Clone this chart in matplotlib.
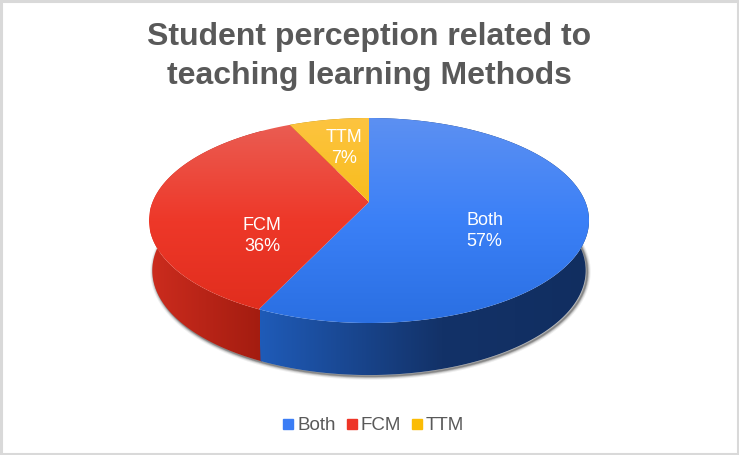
import numpy as np
import matplotlib
matplotlib.use("Agg")
import matplotlib.pyplot as plt
from matplotlib.colors import LinearSegmentedColormap as LSC
from matplotlib.lines import Line2D
from matplotlib.patches import Polygon, Rectangle

plt.rcParams['font.family'] = ['Liberation Sans', 'DejaVu Sans']

categories = ['Both', 'FCM', 'TTM']
values = [57, 36, 7]
title_lines = ['Student perception related to', 'teaching learning Methods']
legend_colors = ['#3b7df5', '#ee3527', '#fbbc04']

W, H = 739, 455
fig = plt.figure(figsize=(W / 100, H / 100), dpi=100, facecolor='white')
ax = fig.add_axes([0, 0, 1, 1])
ax.set_xlim(0, W)
ax.set_ylim(H, 0)
ax.axis('off')

# frame of the picture
ax.add_patch(Rectangle((1, 1), W - 2.5, H - 2.5, fill=False, ec='#d9d9d9', lw=2.2, zorder=1))

# perspective projection of the pie's unit circle
CX, CY, K, A, C = 369.0, 202.0, 216.4, -62.7, 0.1805


def rim(deg):
    t = np.radians(deg)
    u, v = np.sin(t), np.cos(t)
    w = 1 + C * v
    return CX + K * u / w, (A * v + CY) / w


def lower(x, y):
    return CX + (x - CX) * 0.985, y + 50 + (y - 220) * 0.02


def grad(poly, stops, horizontal, span, z):
    cmap = LSC.from_list('g', stops)
    g = np.linspace(0, 1, 256)
    arr = g[None, :] if horizontal else g[:, None]
    ext = (span[0], span[1], H, 0) if horizontal else (0, W, span[1], span[0])
    im = ax.imshow(arr, cmap=cmap, extent=ext, aspect='auto', origin='upper', zorder=z,
                   interpolation='bilinear', vmin=0, vmax=1)
    patch = Polygon(poly, closed=True, transform=ax.transData, fc='none', ec='none')
    ax.add_patch(patch)
    im.set_clip_path(patch)


cum = np.cumsum([0] + values) / sum(values) * 360
top_stops = [['#5c90f2', '#3b80f7', '#2a6fe2'],
             ['#ea5f55', '#ee3829', '#df2c1c'],
             ['#fdc440', '#f7bb15', '#efb000']]
side_stops = [[(0, '#1f5bb8'), (0.55, '#133268'), (1, '#112e60')],
              [(0, '#cc2c1e'), (1, '#a31c10')],
              [(0, '#b08500'), (1, '#b08500')]]
side_spans = [(260, 590), (150, 262), (290, 370)]

# soft shadow under the lower rim
full = np.linspace(0, 360, 361)
bx, by = lower(*rim(full))
for lw, alpha in [(5, 0.08), (3.5, 0.14), (2.2, 0.22), (1.2, 0.3)]:
    ax.plot(bx + 1.5, by + 1.2, color='#303030', lw=lw, alpha=alpha, zorder=2)

# side walls (drawn with a small overlap so no seam shows), then top faces
for i in reversed(range(len(values))):
    t = np.linspace(cum[i] - 0.6, cum[i + 1], 200)
    x, y = rim(t)
    xb, yb = lower(x, y)
    poly = np.column_stack([np.r_[x, xb[::-1]], np.r_[y, yb[::-1]]])
    grad(poly, side_stops[i], True, side_spans[i], 3)

for i in range(len(values)):
    t = np.linspace(cum[i], cum[i + 1], 200)
    x, y = rim(t)
    poly = np.column_stack([np.r_[CX, x], np.r_[CY, y]])
    grad(poly, top_stops[i], False, (118, 323), 4)

# slice labels
label_xy = [(484.5, 231), (262, 236), (344, 148)]
for c, v, (lx, ly) in zip(categories, values, label_xy):
    ax.text(lx, ly, f'{c}\n{v}%', color='white', fontsize=13, ha='center', va='center',
            linespacing=1.3, zorder=6)

# title
ax.text(369, 45.5, title_lines[0], fontsize=23, fontweight='bold', color='#595959',
        ha='center', va='baseline')
ax.text(369, 84, title_lines[1], fontsize=23, fontweight='bold', color='#595959',
        ha='center', va='baseline')

# legend
handles = [Line2D([], [], ls='none', marker='s', ms=7, color=c) for c in legend_colors]
ax.legend(handles, categories, loc='center', bbox_to_anchor=(373.5 / W, 1 - 425.5 / H),
          bbox_transform=fig.transFigure, ncol=3, frameon=False, fontsize=13.5,
          labelcolor='#595959', handlelength=0.6, handletextpad=0.2, columnspacing=0.52,
          borderpad=0, borderaxespad=0)

fig.savefig('out.png', dpi=100)
